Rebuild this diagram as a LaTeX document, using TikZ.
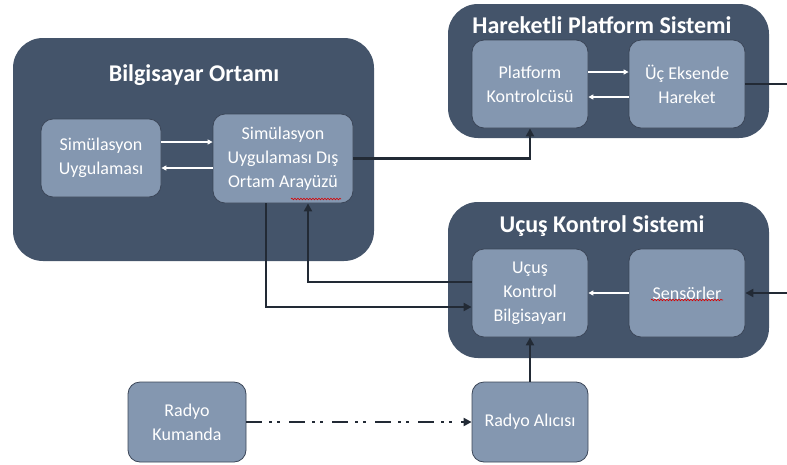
\documentclass[tikz,border=0pt]{standalone}
\usepackage{fontspec}
\setmainfont{Carlito}
\usetikzlibrary{arrows.meta,calc,decorations.pathmorphing}
\definecolor{outerc}{HTML}{44546A}
\definecolor{innerc}{HTML}{8497B0}
\definecolor{edgec}{HTML}{3B4658}
\definecolor{linec}{HTML}{222A35}
\begin{document}
\begin{tikzpicture}[x=1pt,y=-1pt,
  group/.style={fill=outerc, rounded corners=30pt, draw=none, inner sep=0pt},
  block/.style={fill=innerc, draw=edgec, line width=0.8pt, rounded corners=12pt, text=white,
    font=\fontsize{18}{24}\selectfont, align=center, inner sep=0pt},
  gtitle/.style={text=white, font=\fontsize{24}{28}\selectfont\bfseries, inner sep=0pt},
  conn/.style={draw=linec, line width=2.5pt, -{Triangle[length=8pt,width=8pt]}},
  plain/.style={draw=linec, line width=2.5pt},
  wconn/.style={draw=white, line width=1.3pt, -{Triangle[length=5pt,width=5pt]}},
  squig/.style={draw=red!85!black, line width=0.6pt, decorate, decoration={snake, amplitude=0.8pt, segment length=3pt}}]
\useasboundingbox (0,0) rectangle (787,464);
% groups
\node[group, minimum width=361pt, minimum height=223pt] (bo) at (193.5,149.5) {};
\node[group, minimum width=321pt, minimum height=134pt] (hp) at (608.5,71) {};
\node[group, minimum width=321pt, minimum height=156pt] (uk) at (608.5,280) {};
\node[gtitle] (bot) at (194,75) {Bilgisayar Ortamı};
\node[gtitle] (hpt) at (602,25) {Hareketli Platform Sistemi};
\node[gtitle] (ukt) at (602,226) {Uçuş Kontrol Sistemi};
% blocks
\node[block, minimum width=120pt, minimum height=78pt] (sim) at (101,158) {Simülasyon\\Uygulaması};
\node[block, minimum width=140pt, minimum height=89pt] (ara) at (283,158.5) {Simülasyon\\Uygulaması Dış\\Ortam Arayüzü};
\node[block, minimum width=116pt, minimum height=88pt] (pk) at (530,84) {Platform\\Kontrolcüsü};
\node[block, minimum width=116pt, minimum height=88pt] (uc) at (687,84) {Üç Eksende\\Hareket};
\node[block, minimum width=116pt, minimum height=88pt] (ukb) at (530,293) {Uçuş\\Kontrol\\Bilgisayarı};
\node[block, minimum width=116pt, minimum height=88pt] (sen) at (687,293) {Sensörler};
\node[block, minimum width=118pt, minimum height=80pt] (rk) at (187,422) {Radyo\\Kumanda};
\node[block, minimum width=116pt, minimum height=80pt] (ra) at (530,422) {Radyo Alıcısı};
% free ends
\coordinate (ucout) at (787,84);
\coordinate (senin) at (787,293);
% white arrows
\draw[wconn] ($(sim.east)+(0,-16)$) -- ($(ara.west)+(0,-16.5)$);
\draw[wconn] ($(ara.west)+(0,9.5)$) -- ($(sim.east)+(0,10)$);
\draw[wconn] ($(pk.east)+(0,-12)$) -- ($(uc.west)+(0,-12)$);
\draw[wconn] ($(uc.west)+(0,13)$) -- ($(pk.east)+(0,13)$);
\draw[wconn] (sen.west) -- (ukb.east);
% dark connectors
\draw[conn] (ara.east) -| (pk.south);
\draw[plain] (uc.east) -- (ucout);
\draw[conn] (senin) -- (sen.east);
\draw[conn] ($(ara.south)+(-17,0)$) |- ($(ukb.west)+(0,14)$);
\draw[conn] ($(ukb.west)+(0,-11)$) -| ($(ara.south)+(25,0)$);
\draw[conn] (ra.north) -- (ukb.south);
\draw[conn, dash pattern=on 16pt off 7pt on 3pt off 5pt on 3pt off 9pt] (rk.east) -- (ra.west);
% spell-check marks
\draw[squig] (291,199) -- (341,199);
\draw[squig] (651,300) -- (723,300);
\end{tikzpicture}
\end{document}
